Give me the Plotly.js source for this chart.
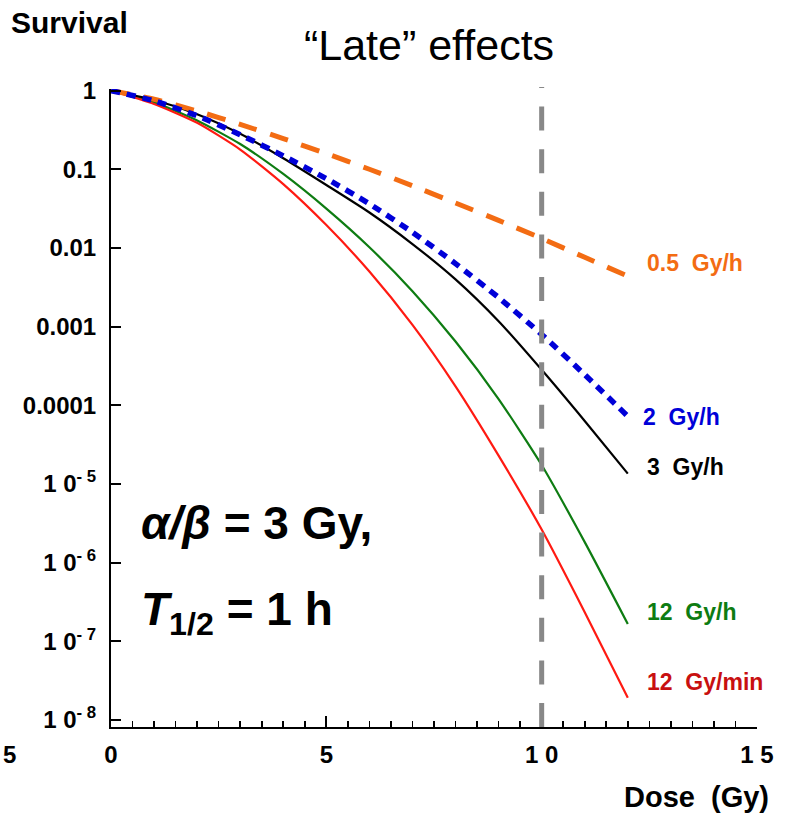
<!DOCTYPE html>
<html>
<head>
<meta charset="utf-8">
<script src="https://cdn.plot.ly/plotly-3.0.1.min.js"></script>
<style>
  html, body { margin: 0; padding: 0; background: #fff; }
  #chart { width: 788px; height: 814px; }
</style>
</head>
<body>
<div id="chart"></div>
<script>
// Dose (Gy) at which each survival curve is sampled
const dose = [0, 1, 2, 3, 4, 5, 6, 7, 8, 9, 10, 11, 12];

// Surviving fraction for each dose rate (late-responding tissue)
const surv_05Gyh   = [1, 0.776, 0.550, 0.372, 0.245, 0.158, 0.100, 0.0617, 0.0372, 0.0224, 0.0132, 0.00759, 0.00437];
const surv_2Gyh    = [1, 0.741, 0.479, 0.275, 0.148, 0.0759, 0.0363, 0.0158, 0.00631, 0.00234, 7.94e-4, 2.45e-4, 7.24e-5];
const surv_3Gyh    = [1, 0.759, 0.501, 0.282, 0.138, 0.0631, 0.0282, 0.0112, 0.00398, 0.00117, 2.82e-4, 6.31e-5, 1.35e-5];
const surv_12Gyh   = [1, 0.708, 0.417, 0.209, 0.0871, 0.0316, 0.0102, 2.82e-3, 6.46e-4, 1.20e-4, 1.74e-5, 1.82e-6, 1.66e-7];
const surv_12Gymin = [1, 0.676, 0.389, 0.178, 0.0646, 0.0195, 5.01e-3, 1.05e-3, 1.74e-4, 2.29e-5, 2.63e-6, 2.34e-7, 1.91e-8];

// Curve labels
const labels = ["0.5&nbsp;&nbsp;Gy/h", "2&nbsp;&nbsp;Gy/h", "3&nbsp;&nbsp;Gy/h", "12&nbsp;&nbsp;Gy/h", "12&nbsp;&nbsp;Gy/min"];

// Axis ticks
const xTickVals = [0, 5, 10, 15];
const xTickText = ["0", "5", "1 0", "1 5"];
const yTickVals = [1, 0.1, 0.01, 0.001, 0.0001, 1e-5, 1e-6, 1e-7, 1e-8];
const yTickText = ["1", "0.1", "0.01", "0.001", "0.0001",
  "1 0<sup>- 5</sup>", "1 0<sup>- 6</sup>", "1 0<sup>- 7</sup>", "1 0<sup>- 8</sup>"];

// Reference dose marked by the vertical dashed line
const refDose = 10;

const W = 788, H = 814;
const M = { l: 111, r: 31, t: 89, b: 87 };
const PW = W - M.l - M.r, PH = H - M.t - M.b;
const px = x => (x - M.l) / PW;          // pixel -> paper x
const py = y => (H - M.b - y) / PH;      // pixel -> paper y

const FONT = "Liberation Sans, Arial, Helvetica, sans-serif";
const bold = s => "<b>" + s + "</b>";

function curve(y, color, width, dash) {
  return {
    x: dose, y: y, type: "scatter", mode: "lines",
    line: { color: color, width: width, dash: dash, shape: "spline", smoothing: 0.6 },
    hoverinfo: "skip", showlegend: false
  };
}

const traces = [
  curve(surv_12Gyh, "#0E7C12", 2.2, "solid"),
  curve(surv_3Gyh, "#000000", 2.2, "solid"),
  curve(surv_12Gymin, "#FF1A12", 2.2, "solid"),
  curve(surv_05Gyh, "#F36C13", 5, "19px,14px"),
  curve(surv_2Gyh, "#0000D8", 5.5, "9px,7px")
];

function label(text, color, xPix, yPix) {
  return {
    xref: "paper", yref: "paper", x: px(xPix), y: py(yPix),
    xanchor: "left", yanchor: "middle", showarrow: false,
    text: bold(text), font: { family: FONT, size: 23, color: color }
  };
}

const layout = {
  width: W, height: H,
  margin: M,
  paper_bgcolor: "#ffffff", plot_bgcolor: "#ffffff",
  font: { family: FONT, color: "#000" },
  title: {
    text: "“Late” effects",
    font: { family: FONT, size: 43, color: "#000" },
    xref: "container", yref: "container",
    x: 429 / W, y: 1 - 45 / H, xanchor: "center", yanchor: "middle"
  },
  xaxis: {
    range: [0, 15],
    tickvals: xTickVals, ticktext: xTickText.map(bold),
    tickfont: { family: FONT, size: 24, color: "#000" },
    ticks: "inside", ticklen: 11, tickwidth: 2, tickcolor: "#000",
    ticklabelstandoff: 5,
    minor: { dtick: 0.5, tick0: 0, ticks: "inside", ticklen: 6, tickwidth: 1.6, tickcolor: "#000" },
    showline: true, linewidth: 2, linecolor: "#000",
    showgrid: false, zeroline: false, fixedrange: true
  },
  yaxis: {
    type: "log",
    range: [-8.09, 0.02],
    tickvals: yTickVals, ticktext: yTickText.map(bold),
    tickfont: { family: FONT, size: 24, color: "#000" },
    ticks: "inside", ticklen: 10, tickwidth: 2, tickcolor: "#000",
    ticklabelstandoff: 8,
    showline: true, linewidth: 2, linecolor: "#000",
    showgrid: false, zeroline: false, fixedrange: true
  },
  shapes: [{
    type: "line", layer: "above",
    xref: "x", yref: "paper",
    x0: refDose, x1: refDose, y0: 0, y1: 1.003,
    line: { color: "#888888", width: 5, dash: "24px,18.6px" }
  }],
  annotations: [
    {
      xref: "paper", yref: "paper", x: px(9), y: py(22),
      xanchor: "left", yanchor: "middle", showarrow: false,
      text: bold("Survival"), font: { family: FONT, size: 30, color: "#000" }
    },
    {
      xref: "paper", yref: "paper", x: px(696), y: py(797),
      xanchor: "center", yanchor: "middle", showarrow: false,
      text: bold("Dose&nbsp;&nbsp;(Gy)"), font: { family: FONT, size: 29, color: "#000" }
    },
    {
      xref: "paper", yref: "paper", x: px(1), y: py(754),
      xanchor: "left", yanchor: "middle", showarrow: false,
      text: bold("5"), font: { family: FONT, size: 24, color: "#000" }
    },
    {
      xref: "paper", yref: "paper", x: px(139), y: py(523),
      xanchor: "left", yanchor: "middle", showarrow: false,
      text: bold("<i>α/β</i> = 3 Gy,"), font: { family: FONT, size: 46, color: "#000" }
    },
    {
      xref: "paper", yref: "paper", x: px(139), y: py(612),
      xanchor: "left", yanchor: "middle", showarrow: false,
      text: bold("<i>T</i><sub>1/2</sub> = 1 h"), font: { family: FONT, size: 46, color: "#000" }
    },
    label(labels[0], "#F36C13", 645, 263),
    label(labels[1], "#0000D8", 641, 417),
    label(labels[2], "#000000", 645, 467),
    label(labels[3], "#0E7C12", 645, 612),
    label(labels[4], "#C81010", 645, 682)
  ]
};

Plotly.newPlot("chart", traces, layout, { displayModeBar: false, staticPlot: true });
</script>
</body>
</html>
